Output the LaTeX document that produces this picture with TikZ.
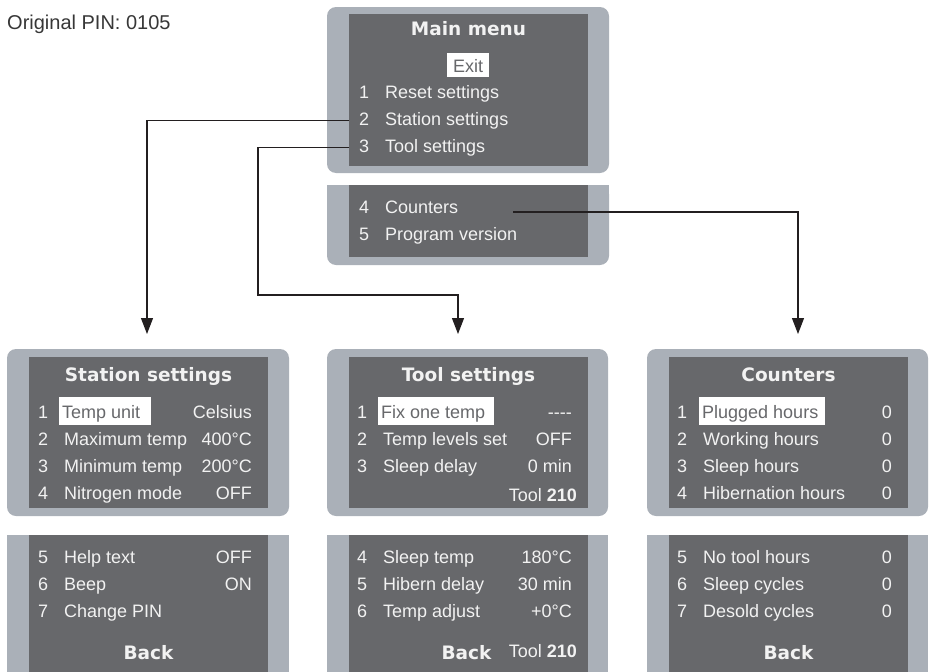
\documentclass[tikz,border=0pt]{standalone}
\usepackage{fontspec}
\setmainfont{Liberation Sans}
\newfontfamily\lcdfont{Liberation Sans}
\newfontfamily\titlefont{DejaVu Sans}
\usetikzlibrary{positioning,arrows.meta}
\definecolor{bezelgray}{RGB}{170,176,184}
\definecolor{scrgray}{RGB}{103,104,107}
\definecolor{lcdwhite}{RGB}{242,242,242}
\definecolor{pingray}{RGB}{55,55,55}
\definecolor{wire}{RGB}{35,31,32}
% one line of a menu: name, x of number, baseline, number, label, right edge of value, value
\newcommand{\menuitem}[7]{%
 \node[lcd, anchor=base west] (#1n) at (#2,#3) {#4};
 \node[lcd, anchor=base west] (#1) at (#2+26,#3) {#5};
 \node[lcd, anchor=base east] (#1v) at (#6,#3) {#7};}

\begin{document}
\begin{tikzpicture}[x=1pt, y=-1pt, every node/.style={inner sep=0pt},
 lcd/.style={text=lcdwhite, font=\lcdfont\fontsize{18}{18}\selectfont},
 menutitle/.style={text=lcdwhite, font=\titlefont\bfseries\fontsize{18.5}{18.5}\selectfont},
 hl/.style={lcd, fill=white, text=scrgray, inner xsep=3pt, text height=21pt, text depth=7pt},
 lcdscreen/.style={fill=scrgray, draw=none, anchor=north west},
 flow/.style={draw=wire, line width=1.2pt, -{Triangle[width=12pt,length=16pt]}}]
\useasboundingbox (0,0) rectangle (930,672);

\node[text=pingray, font=\fontsize{20}{20}\selectfont, anchor=base west] (pin) at (7,29) {Original PIN: 0105};

% main menu
\fill[bezelgray, rounded corners=9pt] (327,7) rectangle (609,173);
\node[lcdscreen, minimum width=239pt, minimum height=152pt] (mainscr) at (349,14) {};
\fill[bezelgray, rounded corners=9pt] (327,185) rectangle (609,265);
\fill[bezelgray] (327,185) rectangle (609,205);
\node[lcdscreen, minimum width=239pt, minimum height=72pt] (mainlow) at (349,185) {};

\node[menutitle, anchor=base] (maintitle) at (468.5,35) {Main menu};
\node[lcd, fill=white, text=scrgray, text height=19pt, text depth=5pt, minimum width=42pt, anchor=base] (exit) at (468,72) {Exit};
\menuitem{m1}{359}{98}{1}{Reset settings}{580}{}
\menuitem{m2}{359}{125}{2}{Station settings}{580}{}
\menuitem{m3}{359}{152}{3}{Tool settings}{580}{}
\menuitem{m4}{359}{213}{4}{Counters}{580}{}
\menuitem{m5}{359}{240}{5}{Program version}{580}{}

% station settings
\fill[bezelgray, rounded corners=9pt] (7,349) rectangle (289,516);
\node[lcdscreen, minimum width=239pt, minimum height=151pt] (stscr) at (29,357) {};
\fill[bezelgray] (7,535) rectangle (289,672);
\node[lcdscreen, minimum width=239pt, minimum height=137pt] (stlow) at (29,535) {};

\node[menutitle, anchor=base] (sttitle) at (148.5,381) {Station settings};
\node[lcd, anchor=base west] (s1n) at (38,418) {1};
\node[hl, anchor=base west] (s1) at (59,418) {\makebox[86pt][l]{Temp unit}};
\node[lcd, anchor=base east] (s1v) at (252,418) {Celsius};
\menuitem{s2}{38}{445}{2}{Maximum temp}{252}{400°C}
\menuitem{s3}{38}{472}{3}{Minimum temp}{252}{200°C}
\menuitem{s4}{38}{499}{4}{Nitrogen mode}{252}{OFF}
\menuitem{s5}{38}{563}{5}{Help text}{252}{OFF}
\menuitem{s6}{38}{590}{6}{Beep}{252}{ON}
\menuitem{s7}{38}{617}{7}{Change PIN}{252}{}
\node[menutitle, anchor=base] (stback) at (148.5,659) {Back};

% tool settings
\fill[bezelgray, rounded corners=9pt] (327,349) rectangle (608,516);
\node[lcdscreen, minimum width=239pt, minimum height=151pt] (tlscr) at (349,357) {};
\fill[bezelgray] (327,535) rectangle (608,672);
\node[lcdscreen, minimum width=239pt, minimum height=137pt] (tllow) at (349,535) {};

\node[menutitle, anchor=base] (tltitle) at (468.5,381) {Tool settings};
\node[lcd, anchor=base west] (t1n) at (357,418) {1};
\node[hl, anchor=base west] (t1) at (378,418) {\makebox[110pt][l]{Fix one temp}};
\node[lcd, anchor=base east] (t1v) at (572,418) {-{}-{}-{}-};
\menuitem{t2}{357}{445}{2}{Temp levels set}{572}{OFF}
\menuitem{t3}{357}{472}{3}{Sleep delay}{572}{0 min}
\node[lcd, anchor=base east] (tltool) at (577,501) {Tool \textbf{210}};
\menuitem{t4}{357}{563}{4}{Sleep temp}{572}{180°C}
\menuitem{t5}{357}{590}{5}{Hibern delay}{572}{30 min}
\menuitem{t6}{357}{617}{6}{Temp adjust}{572}{+0°C}
\node[menutitle, anchor=base] (tlback) at (466.5,659) {Back};
\node[lcd, anchor=base east] (tltool2) at (577,657) {Tool \textbf{210}};

% counters
\fill[bezelgray, rounded corners=9pt] (647,349) rectangle (928,516);
\node[lcdscreen, minimum width=239pt, minimum height=151pt] (cnscr) at (669,357) {};
\fill[bezelgray] (647,535) rectangle (928,672);
\node[lcdscreen, minimum width=239pt, minimum height=137pt] (cnlow) at (669,535) {};

\node[menutitle, anchor=base] (cntitle) at (788.5,381) {Counters};
\node[lcd, anchor=base west] (c1n) at (677,418) {1};
\node[hl, anchor=base west] (c1) at (699,418) {\makebox[120pt][l]{Plugged hours}};
\node[lcd, anchor=base east] (c1v) at (892,418) {0};
\menuitem{c2}{677}{445}{2}{Working hours}{892}{0}
\menuitem{c3}{677}{472}{3}{Sleep hours}{892}{0}
\menuitem{c4}{677}{499}{4}{Hibernation hours}{892}{0}
\menuitem{c5}{677}{563}{5}{No tool hours}{892}{0}
\menuitem{c6}{677}{590}{6}{Sleep cycles}{892}{0}
\menuitem{c7}{677}{617}{7}{Desold cycles}{892}{0}
\node[menutitle, anchor=base] (cnback) at (788.5,659) {Back};

% connectors
\coordinate (sttip) at (147,334);
\coordinate (tlturn) at (258,295);
\coordinate (tltip) at (458,334);
\coordinate (cnstart) at (513,212);
\coordinate (cntip) at (798,334);
\draw[flow] (mainscr.west |- m2) -| (sttip);
\draw[flow] (mainscr.west |- m3) -| (tlturn) -| (tltip);
\draw[flow] (cnstart) -| (cntip);
\end{tikzpicture}
\end{document}
